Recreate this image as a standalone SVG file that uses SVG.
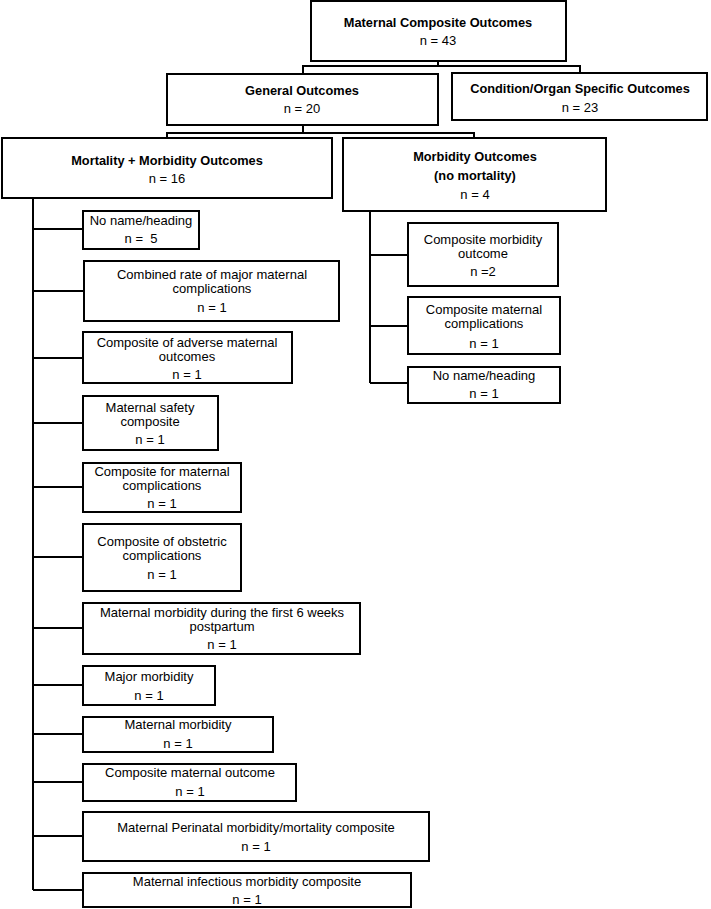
<svg xmlns="http://www.w3.org/2000/svg" width="711" height="909" viewBox="0 0 711 909">
<style>
rect{fill:#fff;stroke:#000;stroke-width:2}
.c{fill:none;stroke:#000;stroke-width:2}
text{font-family:"Liberation Sans",Arial,sans-serif;font-size:13px;text-anchor:middle;fill:#000}
.b{font-weight:bold;font-size:12.8px}
</style>
<rect x="0" y="0" width="711" height="909" style="stroke:none"/>
<g id="connectors">
<path class="c" d="M438 61V66M303 74V66H580V73"/>
<path class="c" d="M303 125V133M167 138V133H474V138"/>
<path class="c" d="M33 198V890M33 229H83M33 291H84M33 358H83M33 423H83M33 487H83M33 557H83M33 628H83M33 685H83M33 734H83M33 782H83M33 836H83M33 890H83"/>
<path class="c" d="M370 211V383M370 255H408M370 326H408M370 383H408"/>
</g>
<g id="root"><rect x="311" y="1" width="255" height="60"/><text class="b" x="438" y="27">Maternal Composite Outcomes</text><text x="438" y="45">n = 43</text></g>
<g id="general"><rect x="167" y="74" width="271" height="51"/><text class="b" x="302" y="95">General Outcomes</text><text x="302" y="113">n = 20</text></g>
<g id="condition"><rect x="452" y="73" width="255" height="47"/><text class="b" x="580" y="93">Condition/Organ Specific Outcomes</text><text x="580" y="112">n = 23</text></g>
<g id="mortmorb"><rect x="2" y="138" width="330" height="60"/><text class="b" x="167" y="165">Mortality + Morbidity Outcomes</text><text x="167" y="183">n = 16</text></g>
<g id="morb"><rect x="343" y="138" width="263" height="73"/><text class="b" x="475" y="161">Morbidity Outcomes</text><text class="b" x="475" y="180">(no mortality)</text><text x="475" y="199">n = 4</text></g>
<g id="r1"><rect x="408" y="223" width="150" height="63"/><text x="483" y="244">Composite morbidity</text><text x="483" y="258">outcome</text><text x="483" y="276">n =2</text></g>
<g id="r2"><rect x="408" y="297" width="152" height="57"/><text x="484" y="314">Composite maternal</text><text x="484" y="328">complications</text><text x="484" y="348">n = 1</text></g>
<g id="r3"><rect x="408" y="367" width="152" height="36"/><text x="484" y="380">No name/heading</text><text x="484" y="398">n = 1</text></g>
<g id="l1"><rect x="83" y="211" width="116" height="38"/><text x="141" y="225">No name/heading</text><text x="141" y="243" xml:space="preserve">n =  5</text></g>
<g id="l2"><rect x="84" y="261" width="255" height="60"/><text x="212" y="279">Combined rate of major maternal</text><text x="212" y="293">complications</text><text x="212" y="312">n = 1</text></g>
<g id="l3"><rect x="83" y="332" width="209" height="51"/><text x="187" y="347">Composite of adverse maternal</text><text x="187" y="361">outcomes</text><text x="187" y="379">n = 1</text></g>
<g id="l4"><rect x="83" y="396" width="135" height="54"/><text x="150" y="412">Maternal safety</text><text x="150" y="426">composite</text><text x="150" y="444">n = 1</text></g>
<g id="l5"><rect x="83" y="463" width="158" height="49"/><text x="162" y="476">Composite for maternal</text><text x="162" y="490">complications</text><text x="162" y="508">n = 1</text></g>
<g id="l6"><rect x="83" y="524" width="158" height="67"/><text x="162" y="546">Composite of obstetric</text><text x="162" y="560">complications</text><text x="162" y="579">n = 1</text></g>
<g id="l7"><rect x="83" y="603" width="277" height="51"/><text x="222" y="617">Maternal morbidity during the first 6 weeks</text><text x="222" y="631">postpartum</text><text x="222" y="649">n = 1</text></g>
<g id="l8"><rect x="83" y="666" width="132" height="39"/><text x="149" y="681">Major morbidity</text><text x="149" y="700">n = 1</text></g>
<g id="l9"><rect x="83" y="717" width="190" height="35"/><text x="178" y="729">Maternal morbidity</text><text x="178" y="748">n = 1</text></g>
<g id="l10"><rect x="83" y="764" width="213" height="37"/><text x="190" y="777">Composite maternal outcome</text><text x="190" y="796">n = 1</text></g>
<g id="l11"><rect x="83" y="812" width="346" height="49"/><text x="256" y="832">Maternal Perinatal morbidity/mortality composite</text><text x="256" y="851">n = 1</text></g>
<g id="l12"><rect x="83" y="873" width="328" height="34"/><text x="247" y="886">Maternal infectious morbidity composite</text><text x="247" y="904">n = 1</text></g>
</svg>
